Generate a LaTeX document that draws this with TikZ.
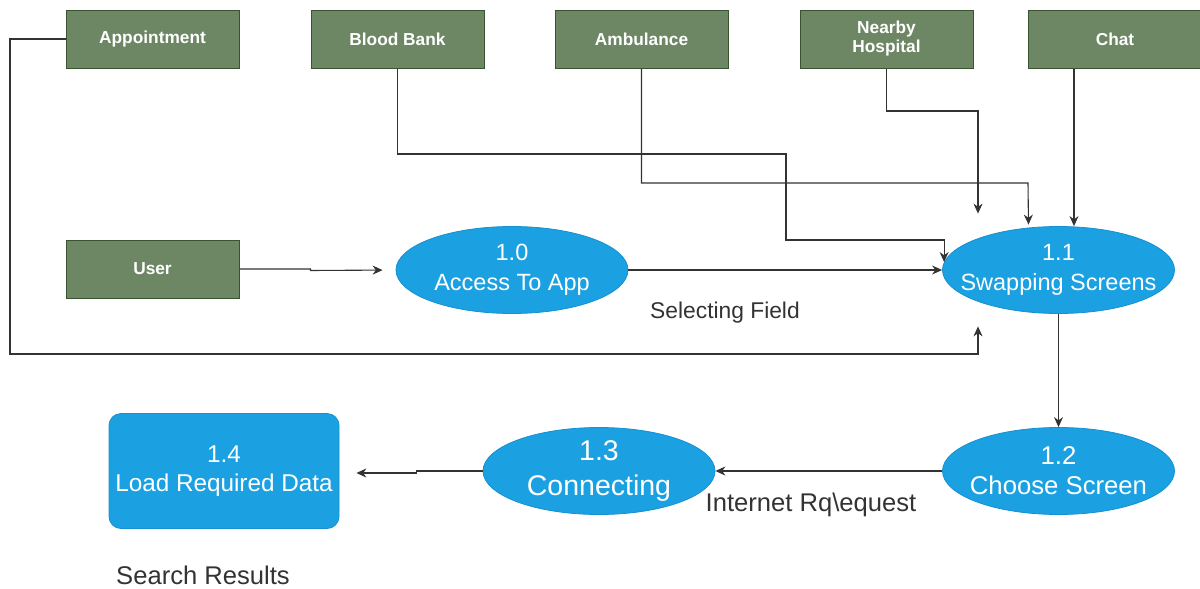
\documentclass[tikz,border=0pt]{standalone}
\usepackage{fontspec}
\setmainfont{Liberation Sans}
\usetikzlibrary{arrows.meta,shapes.geometric}
\definecolor{gfill}{HTML}{6D8764}
\definecolor{gdraw}{HTML}{3A5431}
\definecolor{bfill}{HTML}{1BA1E2}
\definecolor{bdraw}{HTML}{1590D0}
\definecolor{ink}{HTML}{333333}
\begin{document}
\begin{tikzpicture}[x=1pt,y=-1pt,
  ent/.style={draw=gdraw, fill=gfill, line width=1pt, minimum width=173pt, minimum height=58pt,
    inner sep=0pt, text=white, align=center, font=\bfseries\fontsize{17.3}{19}\selectfont},
  proc/.style={ellipse, draw=bdraw, fill=bfill, line width=0.8pt, minimum width=232pt,
    minimum height=87pt, inner sep=0pt},
  ptext/.style={text=white, align=center, inner sep=0pt},
  lbl/.style={text=ink, inner sep=0pt},
  arr/.style={draw=ink, line width=1.1pt, -{Stealth[length=10pt,width=9pt]}}
]
\useasboundingbox (0,0) rectangle (1200,589);
% external entities
\node[ent] (app)  at (152.5,39) {Appointment};
\node[ent] (bb)   at (397.5,39) {Blood Bank};
\node[ent] (amb)  at (641.5,39) {Ambulance};
\node[ent] (nh)   at (886.5,39) {Nearby\\Hospital};
\node[ent] (chat) at (1115,39) {Chat};
\node[ent] (user) at (152.5,269) {User};
% processes
\node[proc, label={[ptext, font=\fontsize{23.5}{30}\selectfont]center:1.0\\Access To App}] (p10) at (512,270) {};
\node[proc, label={[ptext, font=\fontsize{23.5}{30}\selectfont]center:1.1\\Swapping Screens}] (p11) at (1058.5,270) {};
\node[proc, label={[ptext, font=\fontsize{25.7}{30}\selectfont]center:1.2\\Choose Screen}] (p12) at (1058.5,471) {};
\node[proc, label={[ptext, font=\fontsize{28.5}{35}\selectfont]center:1.3\\Connecting}] (p13) at (599,471) {};
\node[draw=bdraw, fill=bfill, line width=0.8pt, rounded corners=12pt, minimum width=230pt,
  minimum height=115pt, inner sep=0pt, text=white, align=center,
  font=\fontsize{24.3}{29}\selectfont] (p14) at (224,471) {1.4\\Load Required Data};
% labels
\node[lbl, font=\fontsize{22.8}{26}\selectfont] (l1) at (725,313) {Selecting Field};
\node[lbl, font=\fontsize{25.6}{30}\selectfont] (l2) at (811,505) {Internet Rq\textbackslash equest};
\node[lbl, font=\fontsize{25.6}{30}\selectfont, anchor=base, text depth=0pt] (l3) at (203,584) {Search Results};
% connectors
\draw[arr, shorten >=13pt] (user.east) -- ++(71,0) -- ++(0,1.5) -- (p10.west);
\draw[arr] (p10.east) -- (p11.west);
\draw[arr, shorten >=8pt] (bb.south) |- (786,154) -- (786,240) -| ([xshift=2pt]p11.west);
\draw[arr, shorten >=1.5pt] (amb.south) |- (1028,183) -- ([xshift=-30pt]p11.north);
\draw[arr, shorten >=12.5pt] (nh.south) |- (978,111) -- ([xshift=-80.5pt]p11.north);
\draw[arr] ([xshift=-41pt]chat.south) -- ([xshift=15.5pt]p11.north);
\draw[arr, shorten >=12.5pt] (app.west) -| (10,354) -| ([xshift=-80.5pt]p11.south);
\draw[arr] (p11.south) -- (p12.north);
\draw[arr] (p12.west) -- (p13.east);
\draw[arr, shorten >=17pt] (p13.west) -- ++(-66,0) |- ([yshift=-2pt]p14.east);
\end{tikzpicture}
\end{document}
